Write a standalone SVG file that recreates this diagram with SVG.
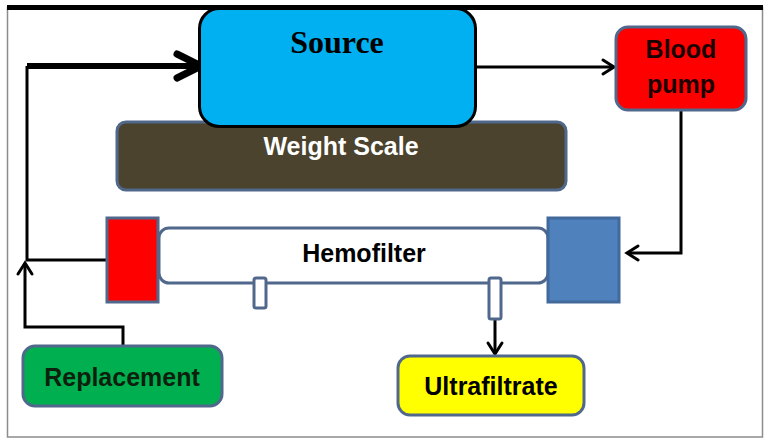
<svg xmlns="http://www.w3.org/2000/svg" width="769" height="442" viewBox="0 0 769 442">
<style>
.lbl{font-family:"Liberation Sans",Arial,sans-serif;font-weight:bold;font-size:25px;text-anchor:middle}
.box{stroke:#50688c;stroke-width:3}
.con{fill:none;stroke:#000;stroke-width:3;stroke-linejoin:miter}
</style>
<defs>
<marker id="arr" markerUnits="userSpaceOnUse" viewBox="-14 -10 16 20" refX="0" refY="0" markerWidth="16" markerHeight="20" orient="auto" overflow="visible">
<path d="M-11,-7 L0,0 L-11,7" fill="none" stroke="#000" stroke-width="3" stroke-linecap="round"/>
</marker>
<marker id="arrThick" markerUnits="userSpaceOnUse" viewBox="-30 -18 34 36" refX="0" refY="0" markerWidth="34" markerHeight="36" orient="auto" overflow="visible">
<path d="M-24,-12 L0,0 L-24,12" fill="none" stroke="#000" stroke-width="7" stroke-linecap="round" stroke-linejoin="round"/>
</marker>
</defs>
<rect x="0" y="0" width="769" height="442" fill="#fff"/>
<rect x="7.5" y="7.5" width="755" height="429.5" fill="none" stroke="#8c8c8c" stroke-width="1.5"/>
<rect x="7" y="5" width="756" height="5" fill="#000"/>

<g id="connectors">
<path class="con" d="M476,67 H614" marker-end="url(#arr)"/>
<path class="con" d="M681,110 V253 H627" marker-end="url(#arr)"/>
<path class="con" d="M495,319 V354" marker-end="url(#arr)"/>
<path class="con" d="M123,346 V327 H25 V263" marker-end="url(#arr)"/>
<path class="con" d="M107,260 H27 V66"/>
<path fill="none" stroke="#000" stroke-width="6" d="M27,66 H201" marker-end="url(#arrThick)"/>
</g>

<g id="weight-scale">
<rect class="box" x="117" y="122" width="449" height="68" rx="9" fill="#4b432d"/>
<text class="lbl" x="341" y="155" fill="#fff">Weight Scale</text>
</g>

<g id="source">
<rect x="199.5" y="8.5" width="276" height="118" rx="20" fill="#00b0f0" stroke="#000" stroke-width="3"/>
<text x="337" y="53" font-family="'Liberation Serif','Times New Roman',serif" font-size="32" font-weight="bold" text-anchor="middle" fill="#000">Source</text>
</g>

<g id="blood-pump">
<rect class="box" x="616" y="27" width="130" height="83" rx="12" fill="#ff0000"/>
<text class="lbl" x="681" y="58" fill="#1a0000">Blood</text>
<text class="lbl" x="681" y="93" fill="#1a0000">pump</text>
</g>

<g id="hemofilter">
<rect class="box" x="159" y="228" width="389" height="55" rx="10" fill="#fff"/>
<text class="lbl" x="364" y="262" fill="#000" font-size="26">Hemofilter</text>
<rect class="box" x="254" y="278" width="12" height="30" rx="2" fill="#fff"/>
<rect class="box" x="489" y="278" width="12" height="41" rx="2" fill="#fff"/>
</g>

<g id="inlet-port">
<rect class="box" x="107" y="218" width="51" height="84" fill="#ff0000"/>
</g>

<g id="outlet-port">
<rect x="548" y="218" width="71" height="84" fill="#4f81bd" stroke="#41699b" stroke-width="3"/>
</g>

<g id="replacement">
<rect class="box" x="23" y="346" width="199" height="60" rx="12" fill="#00b050"/>
<text class="lbl" x="122" y="386" fill="#0d1f0d">Replacement</text>
</g>

<g id="ultrafiltrate">
<rect class="box" x="398" y="356" width="186" height="59" rx="12" fill="#ffff00"/>
<text class="lbl" x="491" y="395" fill="#000" font-size="26">Ultrafiltrate</text>
</g>
</svg>
